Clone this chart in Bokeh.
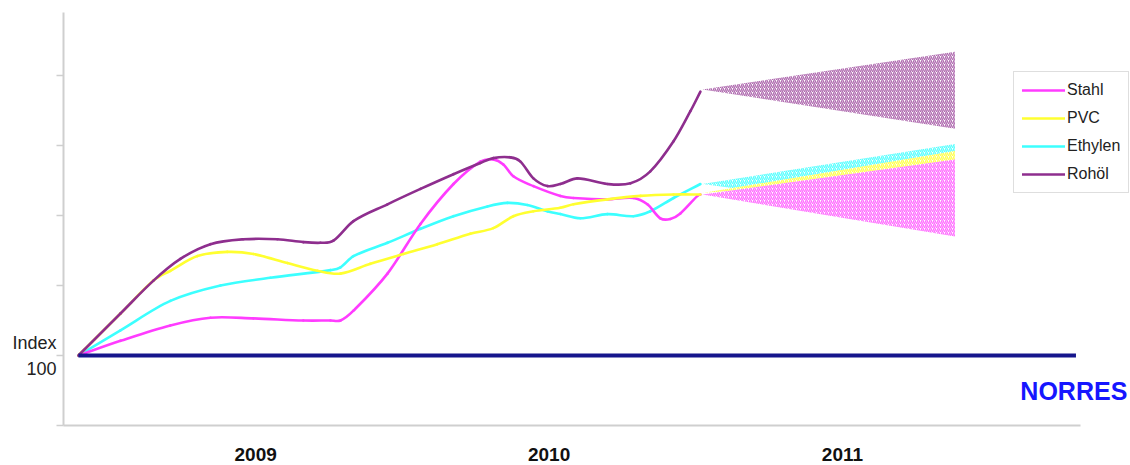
from bokeh.plotting import figure
from bokeh.models import Range1d, FixedTicker, Label, Legend, LegendItem
from bokeh.embed import file_html
from bokeh.resources import INLINE

# ---- data (x = months since the common start point, y = index, start = 100) ----
stahl_x = [0, 1.72, 3.76, 5.40, 7.16, 9.20, 10.31, 10.72, 11.25, 12.64, 13.99, 15.34, 16.44,
           16.97, 17.38, 17.79, 18.61, 19.71, 20.25, 21.64, 22.70, 23.27, 23.80, 24.21, 24.62, 25.32, 25.44]
stahl_y = [100, 102.1, 104.3, 105.4, 105.3, 105.0, 105.0, 105.0, 106.4, 111.7, 118.8, 124.5, 127.7,
           128.0, 127.3, 125.6, 124.2, 122.8, 122.5, 122.3, 122.5, 121.6, 119.6, 119.5, 120.3, 122.8, 123.0]

pvc_x = [0, 1.72, 3.07, 3.76, 4.87, 6.09, 7.16, 8.55, 9.78, 10.72, 11.94, 13.29, 14.68, 16.03,
         16.97, 17.79, 18.61, 19.71, 20.25, 21.64, 22.99, 24.34, 25.44]
pvc_y = [100, 106.0, 110.7, 112.1, 114.2, 114.8, 114.5, 113.2, 112.1, 111.7, 113.1, 114.5, 115.9, 117.4,
         118.2, 119.9, 120.6, 121.1, 121.6, 122.3, 122.8, 123.0, 123.0]

ethylen_x = [0, 1.72, 3.76, 5.81, 7.85, 10.31, 10.72, 11.25, 12.64, 13.99, 15.34, 16.73, 17.55,
             18.36, 19.18, 19.71, 20.53, 21.64, 22.70, 23.39, 24.34, 25.44]
ethylen_y = [100, 103.6, 107.8, 110.0, 111.1, 112.2, 112.6, 114.2, 116.1, 118.1, 119.9, 121.3, 121.8,
             121.5, 120.6, 120.2, 119.6, 120.2, 119.9, 120.6, 122.5, 124.5]

rohoel_x = [0, 1.72, 3.07, 4.17, 5.40, 6.75, 8.14, 9.20, 9.90, 10.43, 11.25, 12.64, 13.99, 15.34,
            16.44, 16.97, 17.67, 18.08, 18.61, 19.18, 19.71, 20.41, 21.64, 22.58, 23.39, 24.34, 25.03, 25.44]
rohoel_y = [100, 106.0, 110.7, 113.8, 115.9, 116.6, 116.6, 116.2, 116.1, 116.4, 119.2, 121.6, 123.8, 125.9,
            127.5, 128.2, 128.3, 127.7, 125.3, 124.2, 124.5, 125.3, 124.5, 124.6, 126.3, 130.6, 134.9, 137.7]

# forecast fans: [start x, end x]; values = start, end upper, end lower
fan_x = [25.52, 35.85]
stahl_fan = [123.0, 128.0, 117.0]
pvc_fan = [123.2, 129.2, 126.0]
ethylen_fan = [124.5, 130.2, 119.6]
rohoel_fan = [138.0, 143.4, 132.4]

baseline_x = [0, 40.8]
baseline_y = [100, 100]

year_labels = ["2009", "2010", "2011"]
year_pos = [7.25, 19.25, 31.25]
y_ticks = [90, 100, 110, 120, 130, 140]
index_label = "Index\n100"

colors = {"Stahl": "#ff3cff", "PVC": "#ffff30", "Ethylen": "#3cffff", "Rohöl": "#8e2e8e"}

FONT = "Liberation Sans"

p = figure(width=1130, height=465, output_backend="svg", toolbar_location=None,
           x_range=Range1d(-0.61, 43.03), y_range=Range1d(90, 149),
           min_border_left=63, min_border_right=0, min_border_top=12, min_border_bottom=40)
p.grid.visible = False
p.outline_line_color = None
p.background_fill_color = "white"
p.border_fill_color = "white"

# axes
p.xaxis.ticker = FixedTicker(ticks=year_pos)
p.xaxis.major_label_overrides = {v: s for v, s in zip(year_pos, year_labels)}
p.xaxis.major_tick_line_color = None
p.xaxis.minor_tick_line_color = None
p.xaxis.axis_line_color = "#cfcfcf"
p.xaxis.axis_line_width = 2
p.xaxis.bounds = (-0.61, 40.98)
p.xaxis.major_label_text_font = FONT
p.xaxis.major_label_text_font_style = "bold"
p.xaxis.major_label_text_font_size = "19px"
p.xaxis.major_label_text_color = "#111111"
p.xaxis.major_label_standoff = 16

p.yaxis.ticker = FixedTicker(ticks=y_ticks)
p.yaxis.major_label_overrides = {v: (index_label if v == 100 else "") for v in y_ticks}
p.yaxis.major_label_text_font = FONT
p.yaxis.major_label_text_font_size = "18px"
p.yaxis.major_label_text_line_height = 1.3
p.yaxis.major_label_text_color = "#222222"
p.yaxis.major_label_standoff = 0
p.yaxis.minor_tick_line_color = None
p.yaxis.axis_line_color = "#cfcfcf"
p.yaxis.axis_line_width = 2
p.yaxis.major_tick_line_color = "#cfcfcf"
p.yaxis.major_tick_line_width = 1.5
p.yaxis.major_tick_out = 7
p.yaxis.major_tick_in = 0
p.yaxis.bounds = (90, 149)


def fan(vals, col, alpha):
    xs = [fan_x[0], fan_x[1], fan_x[1]]
    ys = [vals[0], vals[1], vals[2]]
    p.patch(xs, ys, fill_color="white", fill_alpha=1.0, line_color=None,
            hatch_pattern="/", hatch_color=col, hatch_alpha=alpha, hatch_scale=4, hatch_weight=1.4)


def smooth_line(xs, ys, col):
    # draw the series as a smooth curve through its points (cubic Hermite -> Bezier segments)
    n = len(xs)
    s = []
    for i in range(n):
        a, b = max(i - 1, 0), min(i + 1, n - 1)
        s.append((ys[b] - ys[a]) / (xs[b] - xs[a]))
    x0, y0, x1, y1, cx0, cy0, cx1, cy1 = ([] for _ in range(8))
    for i in range(n - 1):
        h = xs[i + 1] - xs[i]
        x0.append(xs[i]); y0.append(ys[i]); x1.append(xs[i + 1]); y1.append(ys[i + 1])
        cx0.append(xs[i] + h / 3); cy0.append(ys[i] + s[i] * h / 3)
        cx1.append(xs[i + 1] - h / 3); cy1.append(ys[i + 1] - s[i + 1] * h / 3)
    return p.bezier(x0=x0, y0=y0, x1=x1, y1=y1, cx0=cx0, cy0=cy0, cx1=cx1, cy1=cy1,
                    line_color=col, line_width=2.6, line_cap="round")


# forecast fans (hatched)
fan(rohoel_fan, colors["Rohöl"], 0.7)
fan(ethylen_fan, colors["Ethylen"], 0.85)
fan(pvc_fan, colors["PVC"], 0.85)
fan(stahl_fan, colors["Stahl"], 0.75)

# series
r_eth = smooth_line(ethylen_x, ethylen_y, colors["Ethylen"])
r_sta = smooth_line(stahl_x, stahl_y, colors["Stahl"])
r_pvc = smooth_line(pvc_x, pvc_y, colors["PVC"])
r_roh = smooth_line(rohoel_x, rohoel_y, colors["Rohöl"])

p.line(baseline_x, baseline_y, line_color="#16168c", line_width=4)

legend = Legend(items=[LegendItem(label="Stahl", renderers=[r_sta]),
                       LegendItem(label="PVC", renderers=[r_pvc]),
                       LegendItem(label="Ethylen", renderers=[r_eth]),
                       LegendItem(label="Rohöl", renderers=[r_roh])],
                location=(950, 232), margin=0, padding=8, spacing=8,
                glyph_width=43, glyph_height=20, label_standoff=2, label_height=20,
                label_text_font=FONT, label_text_font_size="16px", label_text_color="#222222",
                border_line_color="#bdbdbd", border_line_width=1, background_fill_color="white",
                background_fill_alpha=1.0)
p.add_layout(legend, "center")

p.add_layout(Label(x=42.90, y=95.0, text="NORRES", text_align="right", text_baseline="alphabetic",
                   text_font=FONT, text_font_style="bold", text_font_size="25px", text_color="#1616ff"))

open("out.html", "w").write(file_html(p, INLINE))
